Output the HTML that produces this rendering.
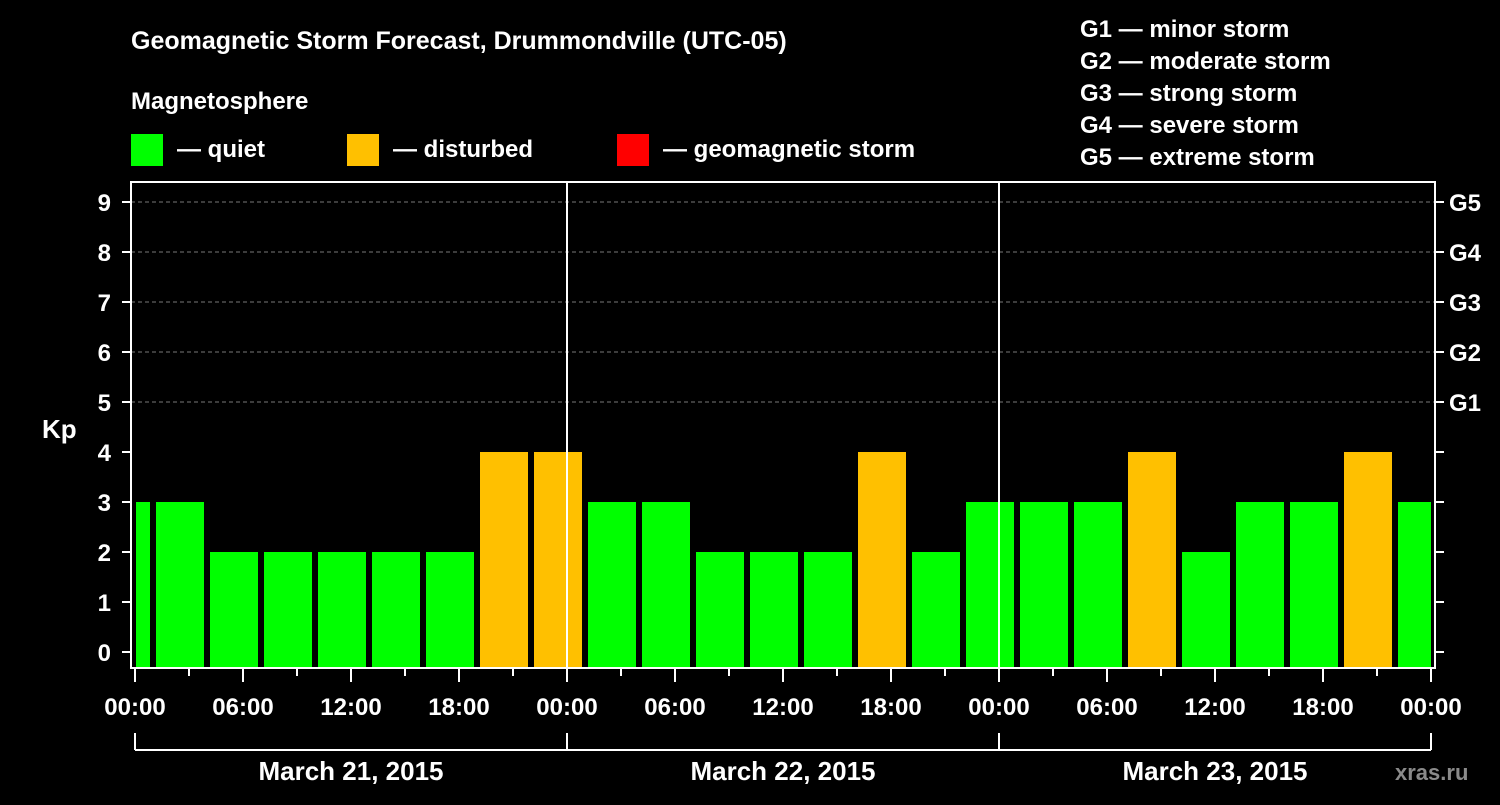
<!DOCTYPE html>
<html><head><meta charset="utf-8"><style>
body{margin:0;background:#000;width:1500px;height:800px;overflow:hidden}
svg text{font-family:"Liberation Sans",sans-serif;font-weight:bold;fill:#fff}
</style></head><body>
<svg id="c" width="1500" height="800">
<text x="131" y="49" font-size="25">Geomagnetic Storm Forecast, Drummondville (UTC-05)</text>
<text x="131" y="109" font-size="24">Magnetosphere</text>
<g><rect x="131" y="134" width="32" height="32" fill="#00ff00"/><text x="177" y="157" font-size="24">— quiet</text></g>
<g><rect x="347" y="134" width="32" height="32" fill="#ffc000"/><text x="393" y="157" font-size="24">— disturbed</text></g>
<g><rect x="617" y="134" width="32" height="32" fill="#ff0000"/><text x="663" y="157" font-size="24">— geomagnetic storm</text></g>
<g font-size="24">
<text x="1080" y="37">G1 — minor storm</text><text x="1080" y="69">G2 — moderate storm</text><text x="1080" y="101">G3 — strong storm</text><text x="1080" y="133">G4 — severe storm</text><text x="1080" y="165">G5 — extreme storm</text></g>
<text x="42" y="438" font-size="26">Kp</text>
<text x="1395" y="780" font-size="22" fill="#888" style="fill:#8a8a8a">xras.ru</text>
<g id="plot"></g>
</svg>
<script>
const kpValues=[3,3,2,2,2,2,2,4,4,3,3,2,2,2,4,2,3,3,3,4,2,3,3,4,3];
const slotStartHour=-2;
const dayLabels=["March 21, 2015","March 22, 2015","March 23, 2015"];
const hourLabels=["00:00","06:00","12:00","18:00"];
const gLabels=["G1","G2","G3","G4","G5"];
const X0=135,PX_H=18,Y0=652,PX_K=50,TOP=182,BOT=668,L=131,R=1435;
const xs=h=>X0+h*PX_H, ys=k=>Y0-k*PX_K;
const NS="http://www.w3.org/2000/svg",P=document.getElementById('plot');
function mk(t,a,txt){const e=document.createElementNS(NS,t);for(const k in a)e.setAttribute(k,a[k]);if(txt!==undefined)e.textContent=txt;P.appendChild(e);return e;}
for(let k=5;k<=9;k++){const e=mk('line',{x1:L,x2:R,y1:ys(k),y2:ys(k),stroke:'#777','stroke-dasharray':'4,3'});

}
kpValues.forEach((v,i)=>{const h0=slotStartHour+3*i;let x1=Math.max(xs(h0)+3,X0+1),x2=Math.min(xs(h0+3)-3,R-4);
const col=v>=5?'#ff0000':v>=4?'#ffc000':'#00ff00';
const r=mk('rect',{x:x1,y:ys(v),width:x2-x1,height:BOT-ys(v),fill:col});

});
for(let d=1;d<3;d++){const e=mk('line',{x1:xs(24*d),x2:xs(24*d),y1:TOP,y2:BOT,stroke:'#fff','stroke-width':2});

}
const fr=mk('rect',{x:L,y:TOP,width:R-L,height:BOT-TOP,fill:'none',stroke:'#fff','stroke-width':2});


for(let k=0;k<=9;k++){mk('line',{x1:L-9,x2:L,y1:ys(k),y2:ys(k),stroke:'#fff','stroke-width':2});mk('line',{x1:R,x2:R+9,y1:ys(k),y2:ys(k),stroke:'#fff','stroke-width':2});
const t=mk('text',{x:L-20,y:ys(k)+9,'font-size':24,'text-anchor':'end'},String(k));

}
gLabels.forEach((g,i)=>{const t=mk('text',{x:R+14,y:ys(5+i)+9,'font-size':24},g);

});
for(let h=0;h<=72;h+=3){const len=h%6==0?14:8;mk('line',{x1:xs(h),x2:xs(h),y1:BOT,y2:BOT+len,stroke:'#fff','stroke-width':2});}
for(let h=0;h<=72;h+=6){const t=mk('text',{x:xs(h),y:715,'font-size':24,'text-anchor':'middle'},hourLabels[(h/6)%4]);

}
mk('line',{x1:xs(0),x2:xs(72),y1:750,y2:750,stroke:'#fff','stroke-width':2});
for(let d=0;d<=3;d++)mk('line',{x1:xs(24*d),x2:xs(24*d),y1:733,y2:750,stroke:'#fff','stroke-width':2});
dayLabels.forEach((s,d)=>{const t=mk('text',{x:xs(24*d+12),y:780,'font-size':26,'text-anchor':'middle'},s);

});
</script>
</body></html>
